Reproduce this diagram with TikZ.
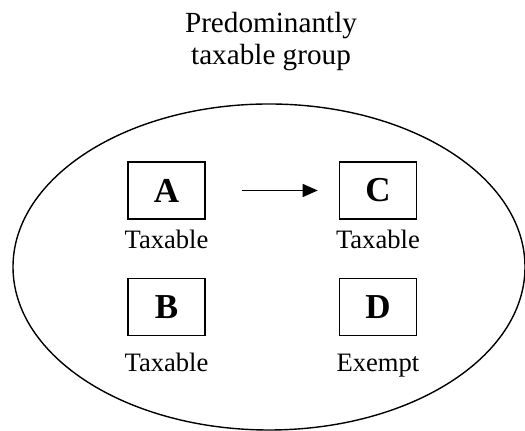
\documentclass[tikz,border=0pt]{standalone}
\usepackage{fontspec}
\setmainfont{Liberation Serif}
\usetikzlibrary{arrows.meta, positioning, shapes.geometric}

\begin{document}
\begin{tikzpicture}[
    firm/.style={draw, line width=0.7pt, minimum width=38.5pt, minimum height=28.5pt, inner sep=0pt, font=\fontsize{17.5}{19}\selectfont\bfseries},
    status/.style={anchor=base, inner sep=0pt, font=\fontsize{13.3}{15}\selectfont},
    arrow/.style={-{Triangle[length=7.5pt, width=6.5pt]}, line width=0.7pt}
  ]
    \useasboundingbox (0,0) rectangle (262.5pt,-215.5pt);
    \node[align=center, anchor=base, inner sep=0pt, font=\fontsize{14.6}{16}\selectfont] (title) at (135.5pt,-32.5pt) {Predominantly\\taxable group};
    \node[draw, ellipse, line width=0.7pt, minimum width=256pt, minimum height=163pt, inner sep=0pt] (group) at (134.5pt,-133.5pt) {};
    \node[firm] (A) at (83.25pt,-95.25pt) {A};
    \node[firm, right=66.5pt of A] (C) {C};
    \node[firm, below=29pt of A] (B) {B};
    \node[firm, right=66.5pt of B] (D) {D};
    \node[status] (taxA) at ([yshift=-14.5pt]A.south) {Taxable};
    \node[status] (taxC) at ([yshift=-14.5pt]C.south) {Taxable};
    \node[status] (taxB) at ([yshift=-17.5pt]B.south) {Taxable};
    \node[status] (exD) at ([yshift=-17.5pt]D.south) {Exempt};
    \draw[arrow, shorten <=18pt, shorten >=10.5pt] (A) -- (C);
  \end{tikzpicture}
\end{document}
